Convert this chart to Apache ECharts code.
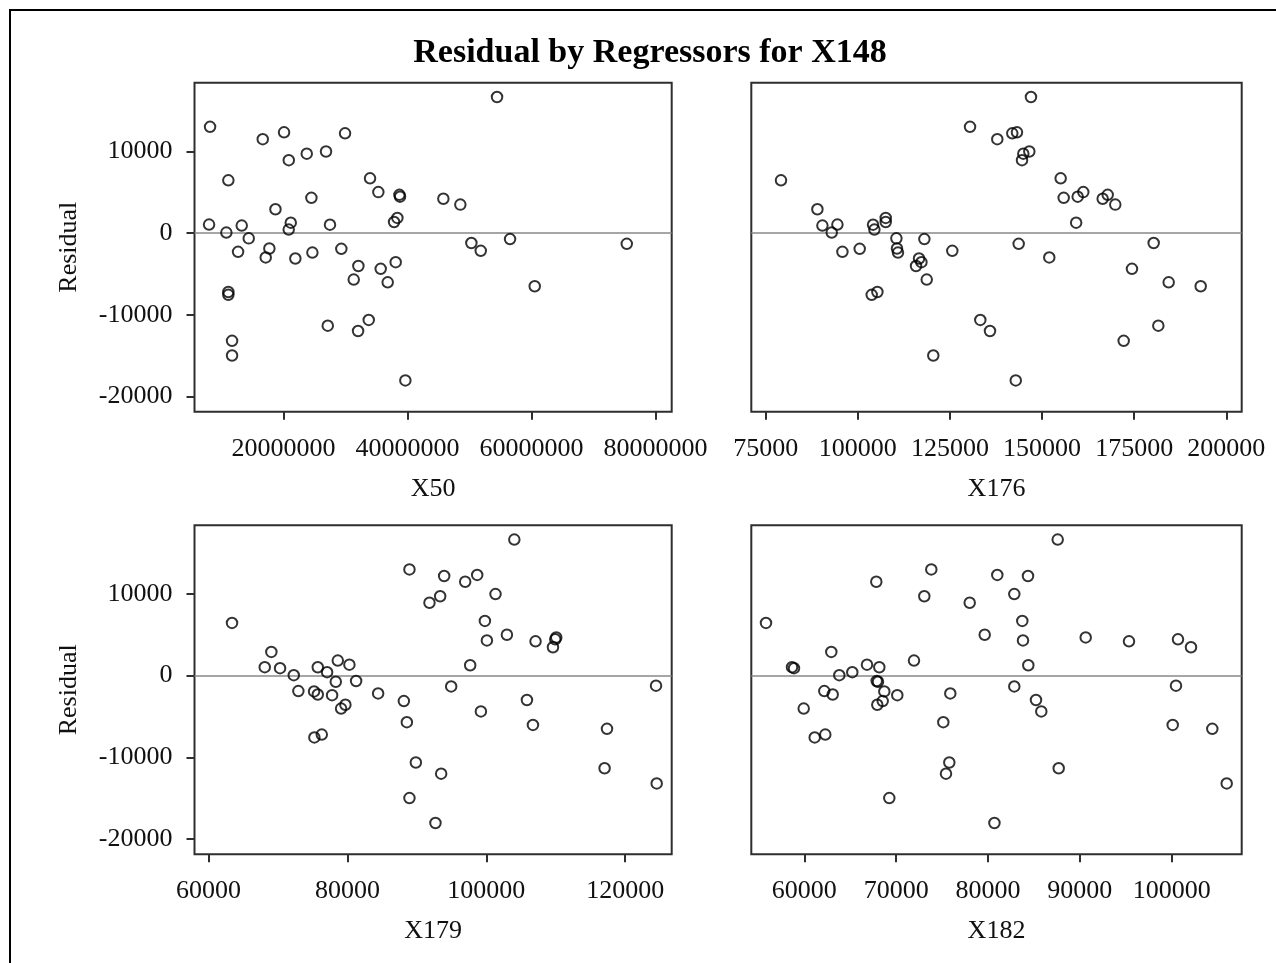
<!DOCTYPE html>
<html>
<head>
<meta charset="utf-8">
<script src="https://cdn.jsdelivr.net/npm/echarts@6/dist/echarts.min.js"></script>
<style>
  html, body { margin: 0; padding: 0; background: #ffffff; }
  #chart { width: 1276px; height: 963px; }
</style>
</head>
<body>
<div id="chart"></div>
<script>
// Residuals of the X148 model, one entry per observation
const residual = [16650, 13000, 12330, 12200, 11490, 9980, 9720, 8920, 6695, 6450,
  5010, 4680, 4450, 4310, 4200, 3480, 2910, 1850, 1350, 1270,
  1040, 1030, 920, 430, 60, -650, -740, -1220, -1320, -1890,
  -1930, -2170, -2300, -2390, -2980, -3110, -3560, -4030, -4380, -5690,
  -6030, -6510, -7210, -7560, -10630, -11330, -11990, -13190, -14980, -18030];

// Regressor values for the same observations
const x50 = [54450000, 8150000, 20090000, 29930000, 16650000, 26860000, 23750000, 20850000, 33960000, 11100000,
  35300000, 38700000, 38800000, 24500000, 45790000, 48530000, 18700000, 38370000, 37840000, 21170000,
  7990000, 27500000, 13260000, 20840000, 10780000, 14390000, 56550000, 50310000, 75380000, 17720000,
  29330000, 51820000, 12670000, 24660000, 17130000, 21910000, 38100000, 32080000, 35680000, 31330000,
  36810000, 60530000, 11100000, 11100000, 33750000, 27140000, 32030000, 11700000, 11700000, 39660000];

const x176 = [146990, 130450, 143190, 141920, 137850, 146540, 144910, 144560, 155050, 79150,
  161190, 167810, 159670, 155870, 166450, 169870, 89030, 107570, 107570, 159250,
  94460, 104130, 90390, 104500, 92920, 110470, 118060, 180290, 143650, 110630,
  100510, 125640, 95820, 110900, 151960, 116610, 117260, 115800, 174400, 118700,
  184360, 193050, 105310, 103770, 133240, 181550, 135870, 172150, 120480, 142860];

const x179 = [104035, 88934, 98689, 93934, 96960, 101326, 93357, 91816, 99798, 63386,
  102968, 110072, 109928, 100086, 107089, 109597, 69049, 78617, 80288, 97680,
  68098, 75735, 70303, 77075, 72277, 81254, 78329, 124438, 94942, 72939,
  75202, 84424, 75735, 77795, 105850, 88127, 79712, 79092, 99222, 88559,
  106715, 117378, 76311, 75245, 89856, 117032, 93501, 124534, 88934, 92680];

const x182 = [87589, 73827, 81012, 84355, 67839, 82863, 73065, 78008, 83734, 55830,
  79641, 90636, 100685, 83810, 95350, 102101, 62940, 71943, 66826, 84388,
  58661, 68166, 58879, 65226, 63811, 67882, 68024, 100468, 82863, 62177,
  68710, 75896, 63092, 70125, 85225, 68536, 67948, 59935, 85802, 75134,
  100109, 104420, 62286, 61132, 75787, 87697, 75427, 105987, 69254, 80700];

// Tick positions
const residualTicks = [-20000, -10000, 0, 10000];
const x50Ticks = [20000000, 40000000, 60000000, 80000000];
const x176Ticks = [75000, 100000, 125000, 150000, 175000, 200000];
const x179Ticks = [60000, 80000, 100000, 120000];
const x182Ticks = [60000, 70000, 80000, 90000, 100000];

const FONT = "'Liberation Serif', 'Times New Roman', serif";
const INK = '#2e2e2e';

// One panel per regressor, two by two
const panels = [
  { name: 'X50',  xs: x50,  ticks: x50Ticks,  min: 5640000, max: 82630000, box: { left: 194.5, top: 82.7, width: 477.2, height: 329 }, yLabels: true },
  { name: 'X176', xs: x176, ticks: x176Ticks, min: 71092,   max: 204179,   box: { left: 751.3, top: 82.7, width: 490.4, height: 329 }, yLabels: false },
  { name: 'X179', xs: x179, ticks: x179Ticks, min: 57984,   max: 126695,   box: { left: 194.5, top: 525.3, width: 477.2, height: 329 }, yLabels: true },
  { name: 'X182', xs: x182, ticks: x182Ticks, min: 54230,   max: 107621,   box: { left: 751.3, top: 525.3, width: 490.4, height: 329 }, yLabels: false }
];

const Y_MIN = -21860;
const Y_MAX = 18400;

const grid = [], xAxis = [], yAxis = [], series = [];

panels.forEach((p, i) => {
  grid.push(Object.assign({
    show: true,
    borderColor: INK,
    borderWidth: 2,
    backgroundColor: 'transparent',
    containLabel: false
  }, p.box));

  xAxis.push({
    type: 'value',
    gridIndex: i,
    position: 'bottom',
    min: p.min,
    max: p.max,
    name: p.name,
    nameLocation: 'middle',
    nameGap: 64,
    nameTextStyle: { fontFamily: FONT, fontSize: 26, color: '#111' },
    splitLine: { show: false },
    axisLine: { show: false, onZero: false },
    axisTick: { show: true, length: 8, inside: false, lineStyle: { color: INK, width: 2 }, customValues: p.ticks },
    axisLabel: { show: true, margin: 24, fontFamily: FONT, fontSize: 26, color: '#111', customValues: p.ticks, formatter: v => String(v) }
  });

  yAxis.push({
    type: 'value',
    gridIndex: i,
    position: 'left',
    min: Y_MIN,
    max: Y_MAX,
    name: p.yLabels ? 'Residual' : '',
    nameLocation: 'middle',
    nameGap: 112,
    nameRotate: 90,
    nameTextStyle: { fontFamily: FONT, fontSize: 26, color: '#111' },
    splitLine: { show: false },
    axisLine: { show: false, onZero: false },
    axisTick: { show: p.yLabels, length: 8, inside: false, lineStyle: { color: INK, width: 2 }, customValues: residualTicks },
    axisLabel: { show: p.yLabels, margin: 22, fontFamily: FONT, fontSize: 26, color: '#111', customValues: residualTicks, formatter: v => String(v) }
  });

  series.push({
    type: 'scatter',
    xAxisIndex: i,
    yAxisIndex: i,
    symbol: 'circle',
    symbolSize: 10.5,
    itemStyle: { color: 'transparent', borderColor: '#000000', borderWidth: 2 },
    emphasis: { disabled: true },
    data: residual.map((r, k) => [p.xs[k], r]),
    markLine: {
      silent: true,
      symbol: 'none',
      label: { show: false },
      lineStyle: { color: '#888888', width: 1.5, type: 'solid' },
      data: [{ yAxis: 0 }],
      z: 1
    },
    z: 3
  });
});

const chart = echarts.init(document.getElementById('chart'), null, { renderer: 'canvas' });
chart.setOption({
  backgroundColor: '#ffffff',
  animation: false,
  title: {
    text: 'Residual by Regressors for X148',
    left: 645,
    top: 31,
    textAlign: 'center',
    textStyle: { fontFamily: FONT, fontSize: 34, fontWeight: 'bold', color: '#000' }
  },
  graphic: [{
    type: 'rect',
    shape: { x: 10, y: 10, width: 1300, height: 1000 },
    style: { fill: 'none', stroke: '#000', lineWidth: 2 },
    silent: true
  }],
  grid, xAxis, yAxis, series
});
</script>
</body>
</html>
